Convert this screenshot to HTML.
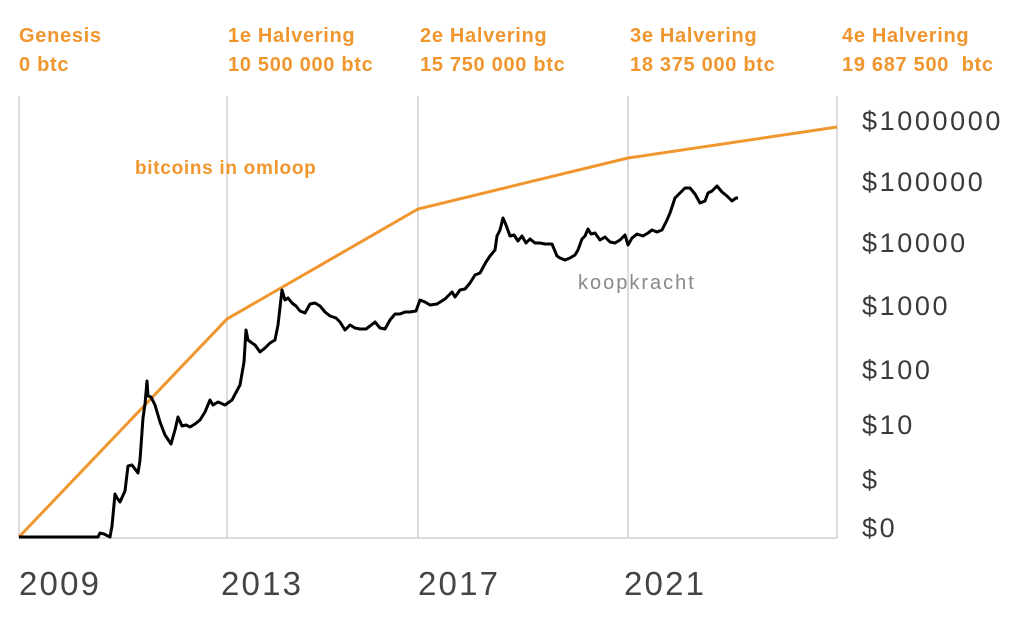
<!DOCTYPE html>
<html><head><style>
body{margin:0;background:#fff;}
svg{display:block;font-family:"Liberation Sans",sans-serif;}
.o{fill:#f0962e;font-weight:bold;font-size:20px;letter-spacing:0.7px;}
.r{fill:#3a3a3a;font-size:27px;letter-spacing:2.6px;}
.y{fill:#444;font-size:33px;letter-spacing:2.2px;}
</style></head><body>
<svg width="1024" height="625" viewBox="0 0 1024 625">
<g stroke="#d0d0d0" stroke-width="1.5">
<line x1="19" y1="96" x2="19" y2="538"/>
<line x1="227" y1="96" x2="227" y2="538"/>
<line x1="418" y1="96" x2="418" y2="538"/>
<line x1="628" y1="96" x2="628" y2="538"/>
<line x1="837" y1="96" x2="837" y2="538"/>
<line x1="19" y1="538" x2="837" y2="538"/>
</g>
<polyline fill="none" stroke="#f0962e" stroke-width="3" points="19,537 227,319 418,209 628,158 837,127"/>
<polyline fill="none" stroke="#000" stroke-width="3" stroke-linejoin="round" points="19,537 98,537 100,533 104,534 110,537 112,526 115,494 117,498 120,502 125,491 128,466 132,465 138,473 140,460 143,418 145,404 147,381 148,396 151,397 155,405 160,422 165,435 171,444 175,430 178,417 182,426 186,425 190,427 195,424 200,420 205,412 210,400 213,405 218,402 225,405 232,400 240,385 244,362 246,330 248,340 252,343 255,345 260,352 265,348 270,343 275,340 278,325 282,290 285,300 288,298 292,303 296,306 300,311 305,313 310,304 315,303 320,306 325,312 330,316 336,318 340,322 345,330 350,325 355,328 360,329 366,329 370,326 375,322 380,328 385,329 390,320 395,314 400,314 405,312 410,312 416,311 420,300 425,302 430,305 437,304 445,299 452,292 455,297 460,290 465,289 470,283 475,275 480,273 486,262 490,256 495,250 497,236 500,230 503,218 506,225 510,236 514,235 518,241 522,236 526,243 530,239 535,243 540,243 545,244 552,244 557,256 560,258 565,260 570,258 575,255 578,250 582,239 585,236 588,229 591,234 595,233 600,240 605,237 610,242 615,243 620,240 625,235 628,245 632,238 637,234 643,236 648,233 652,230 657,232 662,230 667,220 670,213 675,198 680,193 685,188 690,188 695,194 700,203 705,201 708,193 712,191 717,186 722,192 727,196 732,201 736,198 738,198"/>
<g class="o">
<text x="19" y="42">Genesis</text><text x="19" y="71">0 btc</text>
<text x="228" y="42">1e Halvering</text><text x="228" y="71">10 500 000 btc</text>
<text x="420" y="42">2e Halvering</text><text x="420" y="71">15 750 000 btc</text>
<text x="630" y="42">3e Halvering</text><text x="630" y="71">18 375 000 btc</text>
<text x="842" y="42">4e Halvering</text><text x="842" y="71" xml:space="preserve">19 687 500  btc</text>
<text x="135" y="174" font-size="19">bitcoins in omloop</text>
</g>
<text x="578" y="289" fill="#888" font-size="20" letter-spacing="2">koopkracht</text>
<g class="r">
<text x="862" y="130">$1000000</text>
<text x="862" y="191">$100000</text>
<text x="862" y="252">$10000</text>
<text x="862" y="315">$1000</text>
<text x="862" y="379">$100</text>
<text x="862" y="434">$10</text>
<text x="862" y="489">$</text>
<text x="862" y="537">$0</text>
</g>
<g class="y">
<text x="19" y="595">2009</text>
<text x="221" y="595">2013</text>
<text x="418" y="595">2017</text>
<text x="624" y="595">2021</text>
</g>
</svg>
</body></html>
